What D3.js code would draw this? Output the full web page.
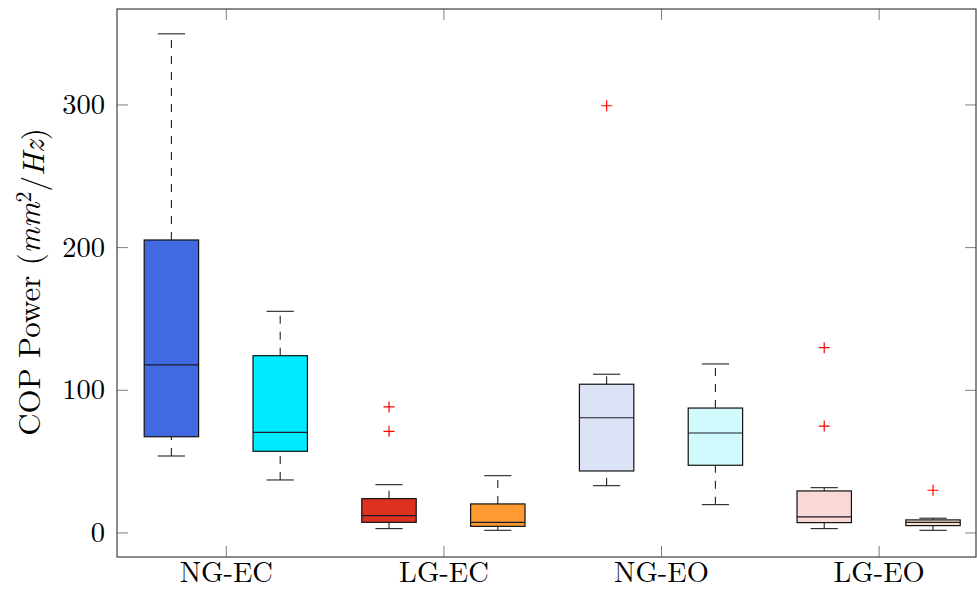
<!DOCTYPE html>
<html>
<head>
<meta charset="utf-8">
<script src="https://cdn.jsdelivr.net/npm/d3@7"></script>
<style>
  html, body { margin: 0; padding: 0; background: #fff; }
  svg { display: block; }
</style>
</head>
<body>
<svg id="chart" width="977" height="590"></svg>
<script>
// ---- data ----
const categories = ["NG-EC", "LG-EC", "NG-EO", "LG-EO"];
const boxNames = ["NG-EC a", "NG-EC b", "LG-EC a", "LG-EC b", "NG-EO a", "NG-EO b", "LG-EO a", "LG-EO b"];
const lowerWhisker = [53.6, 36.8, 2.7, 1.5, 32.8, 19.5, 2.7, 1.5];
const lowerQuartile = [67.1, 56.9, 7.1, 4.3, 43.1, 47.1, 6.9, 4.8];
const median = [117.5, 70.2, 11.8, 7.1, 80.4, 69.7, 10.9, 7.1];
const upperQuartile = [205.0, 123.9, 23.7, 20.0, 103.9, 87.2, 29.1, 8.8];
const upperWhisker = [349.5, 155.0, 33.5, 39.8, 110.9, 118.1, 31.4, 10.0];
const outliers = [[], [], [88.0, 70.9], [], [299.1], [], [129.5, 74.6], [29.6]];
const boxColors = ["#4169e1", "#00ebff", "#dc321f", "#ff9a33", "#dce3f6", "#d0fafd", "#f8d9d5", "#f6e2cb"];
const yTicks = [0, 100, 200, 300];

// ---- layout ----
const FONT = '"Latin Modern Roman", "CMU Serif", "Liberation Serif", serif';
const FS = 28.5;
const LFS = 31;
const pL = 117, pR = 976, pT = 9, pB = 557;
const svg = d3.select("#chart").attr("font-family", FONT);

const x = d3.scaleLinear().domain([0.5, 8.395]).range([pL, pR]);
const y = d3.scaleLinear().domain([-17.2, 366.9]).range([pB, pT]);

const boxW = x(1.25) - x(0.75);
const capW = x(1.125) - x(0.875);

const tickColor = "#7f7f7f";
const tickLen = 11;

const yAxisL = d3.axisLeft(y).tickValues(yTicks).tickSize(-tickLen).tickPadding(12).tickFormat(d3.format("d"));
const gL = svg.append("g").attr("transform", `translate(${pL},0)`).call(yAxisL);
const yAxisR = d3.axisRight(y).tickValues(yTicks).tickSize(-tickLen).tickFormat("");
const gR = svg.append("g").attr("transform", `translate(${pR},0)`).call(yAxisR);
const catPos = categories.map((c, i) => 1.5 + 2 * i);
const xAxisB = d3.axisBottom(x).tickValues(catPos).tickSize(-tickLen).tickPadding(12)
  .tickFormat((d, i) => categories[i]);
const gB = svg.append("g").attr("transform", `translate(0,${pB})`).call(xAxisB);
const xAxisT = d3.axisTop(x).tickValues(catPos).tickSize(-tickLen).tickFormat("");
const gT = svg.append("g").attr("transform", `translate(0,${pT})`).call(xAxisT);

[gL, gR, gB, gT].forEach(g => {
  g.attr("font-family", FONT).attr("font-size", FS);
  g.select(".domain").remove();
  g.selectAll(".tick line").attr("stroke", tickColor).attr("stroke-width", 1);
  g.selectAll(".tick text")
    .attr("font-family", FONT).attr("font-size", FS)
    .style("font-family", FONT).style("font-size", FS + "px")
    .attr("fill", "#000");
});
gB.selectAll(".tick text").attr("y", 24.5).attr("dy", "0");

// frame
svg.append("rect")
  .attr("x", pL).attr("y", pT)
  .attr("width", pR - pL).attr("height", pB - pT)
  .attr("fill", "none").attr("stroke", "#404040").attr("stroke-width", 1.2);

// boxes
const boxes = boxNames.map((n, i) => ({
  pos: i + 1,
  lw: lowerWhisker[i], lq: lowerQuartile[i], md: median[i],
  uq: upperQuartile[i], uw: upperWhisker[i], out: outliers[i], color: boxColors[i]
}));

const gAll = svg.append("g");
boxes.forEach(b => {
  const cx = x(b.pos);
  const gb = gAll.append("g");
  gb.append("line").attr("x1", cx).attr("x2", cx).attr("y1", y(b.uq)).attr("y2", y(b.uw))
    .attr("stroke", "#222").attr("stroke-width", 1.1).attr("stroke-dasharray", "8,8");
  gb.append("line").attr("x1", cx).attr("x2", cx).attr("y1", y(b.lw)).attr("y2", y(b.lq))
    .attr("stroke", "#222").attr("stroke-width", 1.1).attr("stroke-dasharray", "8,8");
  [b.uw, b.lw].forEach(v => {
    gb.append("line").attr("x1", cx - capW / 2).attr("x2", cx + capW / 2)
      .attr("y1", y(v)).attr("y2", y(v)).attr("stroke", "#222").attr("stroke-width", 1.1);
  });
  gb.append("rect").attr("x", cx - boxW / 2).attr("width", boxW)
    .attr("y", y(b.uq)).attr("height", y(b.lq) - y(b.uq))
    .attr("fill", b.color).attr("stroke", "#111").attr("stroke-width", 1.2);
  gb.append("line").attr("x1", cx - boxW / 2).attr("x2", cx + boxW / 2)
    .attr("y1", y(b.md)).attr("y2", y(b.md)).attr("stroke", "#1a1a2a").attr("stroke-width", 1.2);
  b.out.forEach(v => {
    const s = 5.5;
    gb.append("path")
      .attr("d", `M${cx - s},${y(v)}H${cx + s}M${cx},${y(v) - s}V${y(v) + s}`)
      .attr("stroke", "#ff0000").attr("stroke-width", 1.2).attr("fill", "none");
  });
});

// y label
const yl = svg.append("text")
  .attr("transform", `translate(40,${(128 + 436) / 2}) rotate(-90)`)
  .attr("text-anchor", "middle")
  .attr("font-family", FONT).style("font-family", FONT)
  .style("font-size", LFS + "px").attr("fill", "#000");
yl.append("tspan").text("COP Power (");
yl.append("tspan").style("font-style", "italic").text("mm");
yl.append("tspan").attr("dy", "-0.42em").style("font-size", "22px").text("2");
yl.append("tspan").attr("dy", "0.42em").text("/");
yl.append("tspan").style("font-style", "italic").text("Hz");
yl.append("tspan").text(")");
</script>
</body>
</html>
